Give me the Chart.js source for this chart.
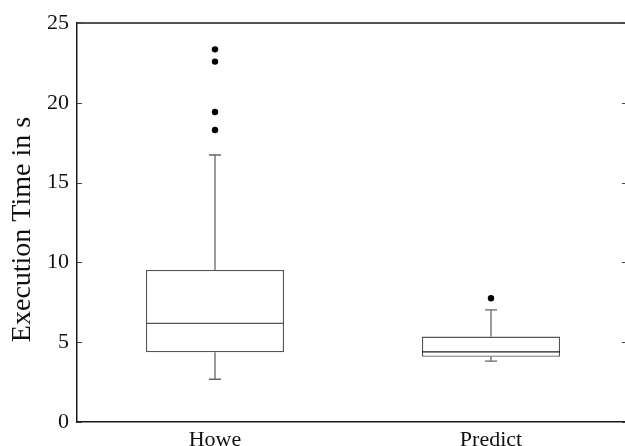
<!DOCTYPE html>
<html>
<head>
<meta charset="utf-8">
<script src="https://cdn.jsdelivr.net/npm/chart.js@4/dist/chart.umd.min.js"></script>
<style>
  html, body { margin: 0; padding: 0; background: #fff; overflow: hidden; }
  #wrap { width: 640px; height: 446px; position: relative; }
</style>
</head>
<body>
<div id="wrap"><canvas id="c"></canvas></div>
<script>
// ---- data ----
const categories = ['Howe', 'Predict'];
const whiskerLow = [2.68, 3.82];
const q1 = [4.37, 4.09];
const median = [6.18, 4.40];
const q3 = [9.52, 5.35];
const whiskerHigh = [16.73, 7.02];
const outliersHowe = [23.35, 22.58, 19.42, 18.30];
const outliersPredict = [7.75];
const yTicks = [0, 5, 10, 15, 20, 25];

const FONT = "'Liberation Serif', 'Times New Roman', serif";
const BOX_COLOR = '#555';
const AXIS_COLOR = '#1a1a1a';

const outlierPoints = [];
outliersHowe.forEach(v => outlierPoints.push({ x: categories[0], y: v }));
outliersPredict.forEach(v => outlierPoints.push({ x: categories[1], y: v }));

const boxPlugin = {
  id: 'boxExtras',
  afterDatasetsDraw(chart) {
    const ctx = chart.ctx;
    const xs = chart.scales.x, ys = chart.scales.y;
    const meta = chart.getDatasetMeta(0);
    ctx.save();
    categories.forEach((c, i) => {
      const bar = meta.data[i];
      const cx = xs.getPixelForValue(i);
      const half = bar.width / 2;
      // whiskers
      ctx.strokeStyle = '#666';
      ctx.lineWidth = 1.3;
      ctx.beginPath();
      ctx.moveTo(cx, ys.getPixelForValue(q3[i]));
      ctx.lineTo(cx, ys.getPixelForValue(whiskerHigh[i]));
      ctx.moveTo(cx, ys.getPixelForValue(q1[i]));
      ctx.lineTo(cx, ys.getPixelForValue(whiskerLow[i]));
      ctx.stroke();
      // caps
      ctx.beginPath();
      ctx.moveTo(cx - 6, ys.getPixelForValue(whiskerHigh[i]));
      ctx.lineTo(cx + 6, ys.getPixelForValue(whiskerHigh[i]));
      ctx.moveTo(cx - 6, ys.getPixelForValue(whiskerLow[i]));
      ctx.lineTo(cx + 6, ys.getPixelForValue(whiskerLow[i]));
      ctx.stroke();
      // median
      ctx.strokeStyle = i === 1 ? '#222' : '#555';
      ctx.lineWidth = 1.3;
      ctx.beginPath();
      ctx.moveTo(cx - half, ys.getPixelForValue(median[i]));
      ctx.lineTo(cx + half, ys.getPixelForValue(median[i]));
      ctx.stroke();
    });
    // frame: top and right lines
    const a = chart.chartArea;
    ctx.strokeStyle = AXIS_COLOR;
    ctx.lineWidth = 1.5;
    ctx.beginPath();
    ctx.moveTo(a.left, a.top);
    ctx.lineTo(a.right, a.top);
    ctx.lineTo(a.right, a.bottom);
    ctx.stroke();
    // inward ticks left & right
    ctx.strokeStyle = '#444';
    ctx.lineWidth = 1;
    yTicks.forEach(t => {
      const py = Math.round(ys.getPixelForValue(t)) + 0.5;
      ctx.beginPath();
      ctx.moveTo(a.left, py); ctx.lineTo(a.left + 5, py);
      ctx.moveTo(a.right, py); ctx.lineTo(a.right - 7, py);
      ctx.stroke();
    });
    ctx.restore();
  }
};

new Chart(document.getElementById('c'), {
  type: 'bar',
  data: {
    labels: categories,
    datasets: [
      {
        type: 'bar',
        data: categories.map((c, i) => [q1[i], q3[i]]),
        backgroundColor: '#ffffff',
        borderColor: BOX_COLOR,
        borderWidth: 1.3,
        borderSkipped: false,
        barPercentage: 0.5,
        categoryPercentage: 1.0,
        grouped: false
      },
      {
        type: 'line',
        data: outlierPoints,
        showLine: false,
        pointRadius: 3.2,
        pointBackgroundColor: '#000',
        pointBorderColor: '#000',
        pointBorderWidth: 0
      }
    ]
  },
  options: {
    responsive: true,
    maintainAspectRatio: false,
    animation: false,
    events: [],
    layout: { padding: { top: 23, right: 11, left: 0, bottom: 0 } },
    plugins: { legend: { display: false }, tooltip: { enabled: false } },
    scales: {
      x: {
        type: 'category',
        offset: true,
        grid: { display: false, drawTicks: false },
        border: { display: true, color: AXIS_COLOR, width: 1.5 },
        ticks: { color: '#111', padding: 5, font: { family: FONT, size: 22 }, maxRotation: 0 },
        afterFit(s) { s.height = 24; }
      },
      y: {
        min: 0, max: 25,
        afterBuildTicks(s) { s.ticks = yTicks.map(v => ({ value: v })); },
        grid: { display: false, drawTicks: false },
        border: { display: true, color: AXIS_COLOR, width: 1.5 },
        ticks: { color: '#111', padding: 8, font: { family: FONT, size: 22 } },
        title: {
          display: true,
          text: 'Execution Time in s\u00A0\u00A0',
          color: '#111',
          font: { family: FONT, size: 28 },
          padding: { top: 6, bottom: 0 }
        },
        afterFit(s) { s.width = 77; }
      }
    }
  },
  plugins: [boxPlugin]
});
</script>
</body>
</html>
